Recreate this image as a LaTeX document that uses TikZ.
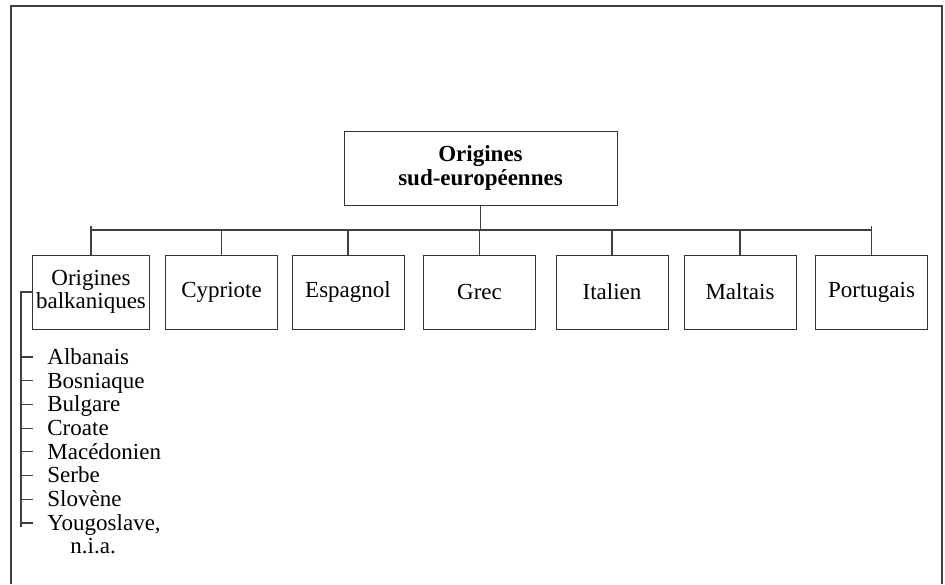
\documentclass[tikz,border=0pt]{standalone}
\usepackage{fontspec}
\setmainfont{Liberation Serif}
\begin{document}
\begin{tikzpicture}[x=0.5pt,y=-0.5pt,
  box/.style={draw=black!80,line width=0.5pt,minimum width=56pt,minimum height=37pt,inner sep=2pt,align=center,font=\fontsize{11.5}{11.8}\selectfont},
  item/.style={inner sep=0pt,anchor=north west,align=left,font=\fontsize{11.5}{11.8}\selectfont},
  link/.style={draw=black!75,line width=0.6pt}]
\useasboundingbox (0,0) rectangle (945,584);
\draw[line width=1pt,black!75] (11,584) -- (11,6) -- (942,6) -- (942,584);
\def\by{292}
\coordinate (bus) at (0,230);
\coordinate (tick) at (0,226);
\node[box,minimum width=136.5pt] (top) at (480.5,168) {\textbf{Origines}\\\textbf{sud-européennes}};
\node[box,minimum width=58pt] (balk) at (91,\by) {Origines\\balkaniques};
\node[box] (cyp) at (221.5,\by) {Cypriote};
\node[box] (esp) at (348,\by) {Espagnol};
\node[box] (grec) at (479.5,\by) {Grec};
\node[box] (ital) at (612,\by) {Italien};
\node[box] (malt) at (740,\by) {Maltais};
\node[box] (port) at (871.5,\by) {Portugais};
\draw[link] (top.south) -- (top.south |- bus);
\draw[link] (balk.north |- bus) -- (port.north |- bus);
\draw[link] (balk.north) -- (balk.north |- tick);
\draw[link] (port.north) -- (port.north |- tick);
\foreach \n in {cyp,esp,grec,ital,malt}
  \draw[link] (\n.north) -- (\n.north |- bus);
\foreach \t [count=\i] in {Albanais,Bosniaque,Bulgare,Croate,Macédonien,Serbe,Slovène,{Yougoslave,\\\hspace*{1em}n.i.a.}} {
  \coordinate (t\i) at (21,{357+23.7*(\i-1)});
  \node[item] (b\i) at ([shift={(26,-9.5)}]t\i) {\strut\t};
  \draw[link] (t\i) -- ++(12,0);
}
\draw[link] (balk.west) -- (balk.west -| t1) -- ([yshift=-2pt]t8);
\end{tikzpicture}
\end{document}
